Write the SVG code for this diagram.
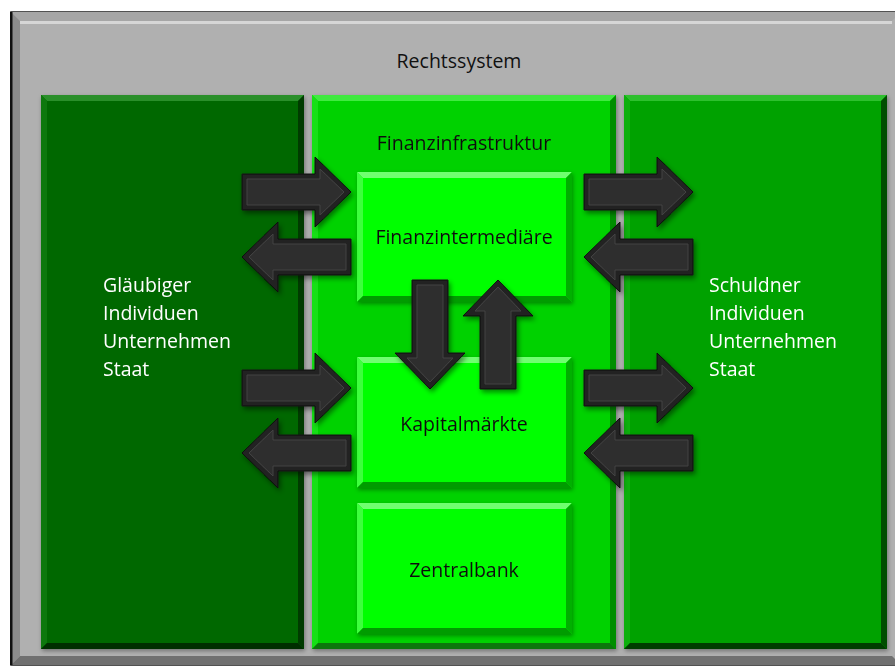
<svg xmlns="http://www.w3.org/2000/svg" width="895" height="669" viewBox="0 0 895 669">
  <style>
    text { font-family: "Open Sans", "Liberation Sans", sans-serif; font-size: 19.5px; }
    .dark { fill: #111111; }
    .light { fill: #ffffff; }
    .mid { text-anchor: middle; }
    .arrow-outer { fill: #232323; stroke: #101010; stroke-width: 1; }
    .arrow-inner { fill: #2e2e2e; stroke: #444444; stroke-width: 1; }
  </style>
  <defs>
    <filter id="shadow" x="-20%" y="-20%" width="140%" height="140%">
      <feDropShadow dx="2" dy="3" stdDeviation="2.5" flood-color="#000000" flood-opacity="0.45"/>
    </filter>
    <filter id="boxShadow" x="-5%" y="-5%" width="110%" height="110%">
      <feDropShadow dx="1" dy="2" stdDeviation="2" flood-color="#000000" flood-opacity="0.35"/>
    </filter>
    <!-- bevelled block arrow, pointing right, origin at tail centre -->
    <g id="arrow">
      <path class="arrow-outer" d="M0,-18 H73 V-35 L109,0 L73,35 V18 H0 Z"/>
      <path class="arrow-inner" d="M5,-13 H78 V-23 L102,0 L78,23 V13 H5 Z"/>
    </g>
  </defs>

  <rect width="895" height="669" fill="#ffffff"/>

  <!-- legal system frame -->
  <g id="rechtssystem">
    <rect x="11" y="12" width="890" height="653" fill="#b0b0b0" stroke="#1a1a1a" stroke-width="1.5"/>
    <polygon points="11,12 901,12 892,21 20,21" fill="#a6a6a6"/>
    <rect x="20" y="21" width="872" height="3" fill="#d6d6d6"/>
    <polygon points="11,12 20,21 20,656 11,665" fill="#8c8c8c"/>
    <polygon points="11,665 20,656 892,656 901,665" fill="#707070"/>
    <rect x="10" y="12" width="2.5" height="653" fill="#111111"/>
    <text class="dark mid" x="459" y="68">Rechtssystem</text>
  </g>

  <!-- creditors -->
  <g id="glaeubiger" filter="url(#boxShadow)">
    <rect x="41" y="95" width="263" height="554" fill="#066806"/>
    <polygon points="41,95 304,95 298,101 47,101" fill="#2c8f2c"/>
    <polygon points="41,95 47,101 47,643 41,649" fill="#0b780b"/>
    <polygon points="304,95 304,649 298,643 298,101" fill="#023b02"/>
    <polygon points="41,649 47,643 298,643 304,649" fill="#032e03"/>
    <text class="light" x="103" y="292">Gläubiger</text>
    <text class="light" x="103" y="320">Individuen</text>
    <text class="light" x="103" y="348">Unternehmen</text>
    <text class="light" x="103" y="376">Staat</text>
  </g>

  <!-- financial infrastructure -->
  <g id="finanzinfrastruktur" filter="url(#boxShadow)">
    <rect x="312" y="95" width="304" height="554" fill="#00d200"/>
    <polygon points="312,95 616,95 610,101 318,101" fill="#40ea40"/>
    <polygon points="312,95 318,101 318,643 312,649" fill="#14e014"/>
    <polygon points="616,95 616,649 610,643 610,101" fill="#008e00"/>
    <polygon points="312,649 318,643 610,643 616,649" fill="#0a760a"/>
    <text class="dark mid" x="464" y="150">Finanzinfrastruktur</text>
  </g>

  <!-- debtors -->
  <g id="schuldner" filter="url(#boxShadow)">
    <rect x="624" y="95" width="263" height="554" fill="#00a200"/>
    <polygon points="624,95 887,95 881,101 630,101" fill="#2fc02f"/>
    <polygon points="624,95 630,101 630,643 624,649" fill="#0cb00c"/>
    <polygon points="887,95 887,649 881,643 881,101" fill="#004e00"/>
    <polygon points="624,649 630,643 881,643 887,649" fill="#003e00"/>
    <text class="light" x="709" y="292">Schuldner</text>
    <text class="light" x="709" y="320">Individuen</text>
    <text class="light" x="709" y="348">Unternehmen</text>
    <text class="light" x="709" y="376">Staat</text>
  </g>

  <!-- financial intermediaries -->
  <g id="finanzintermediaere" filter="url(#boxShadow)">
    <rect x="357" y="172" width="215" height="130" fill="#00ff00"/>
    <polygon points="357,172 572,172 566,178 363,178" fill="#70ff70"/>
    <polygon points="357,172 363,178 363,296 357,302" fill="#3cff3c"/>
    <polygon points="572,172 572,302 566,296 566,178" fill="#00b000"/>
    <polygon points="357,302 363,296 566,296 572,302" fill="#009c00"/>
    <text class="dark mid" x="464" y="244">Finanzintermediäre</text>
  </g>

  <!-- capital markets -->
  <g id="kapitalmaerkte" filter="url(#boxShadow)">
    <rect x="357" y="357" width="215" height="131" fill="#00ff00"/>
    <polygon points="357,357 572,357 566,363 363,363" fill="#70ff70"/>
    <polygon points="357,357 363,363 363,482 357,488" fill="#3cff3c"/>
    <polygon points="572,357 572,488 566,482 566,363" fill="#00b000"/>
    <polygon points="357,488 363,482 566,482 572,488" fill="#009c00"/>
    <text class="dark mid" x="464" y="431">Kapitalmärkte</text>
  </g>

  <!-- central bank -->
  <g id="zentralbank" filter="url(#boxShadow)">
    <rect x="357" y="503" width="215" height="131" fill="#00ff00"/>
    <polygon points="357,503 572,503 566,509 363,509" fill="#70ff70"/>
    <polygon points="357,503 363,509 363,628 357,634" fill="#3cff3c"/>
    <polygon points="572,503 572,634 566,628 566,509" fill="#00b000"/>
    <polygon points="357,634 363,628 566,628 572,634" fill="#009c00"/>
    <text class="dark mid" x="464" y="577">Zentralbank</text>
  </g>

  <!-- flows between the blocks -->
  <g id="connectors" filter="url(#shadow)">
    <use href="#arrow" transform="translate(242,192)"/>
    <use href="#arrow" transform="translate(351,257) rotate(180)"/>
    <use href="#arrow" transform="translate(242,388)"/>
    <use href="#arrow" transform="translate(351,453) rotate(180)"/>
    <use href="#arrow" transform="translate(584,192)"/>
    <use href="#arrow" transform="translate(693,257) rotate(180)"/>
    <use href="#arrow" transform="translate(584,388)"/>
    <use href="#arrow" transform="translate(693,453) rotate(180)"/>
    <use href="#arrow" transform="translate(430,280) rotate(90)"/>
    <use href="#arrow" transform="translate(498,389) rotate(-90)"/>
  </g>
</svg>
